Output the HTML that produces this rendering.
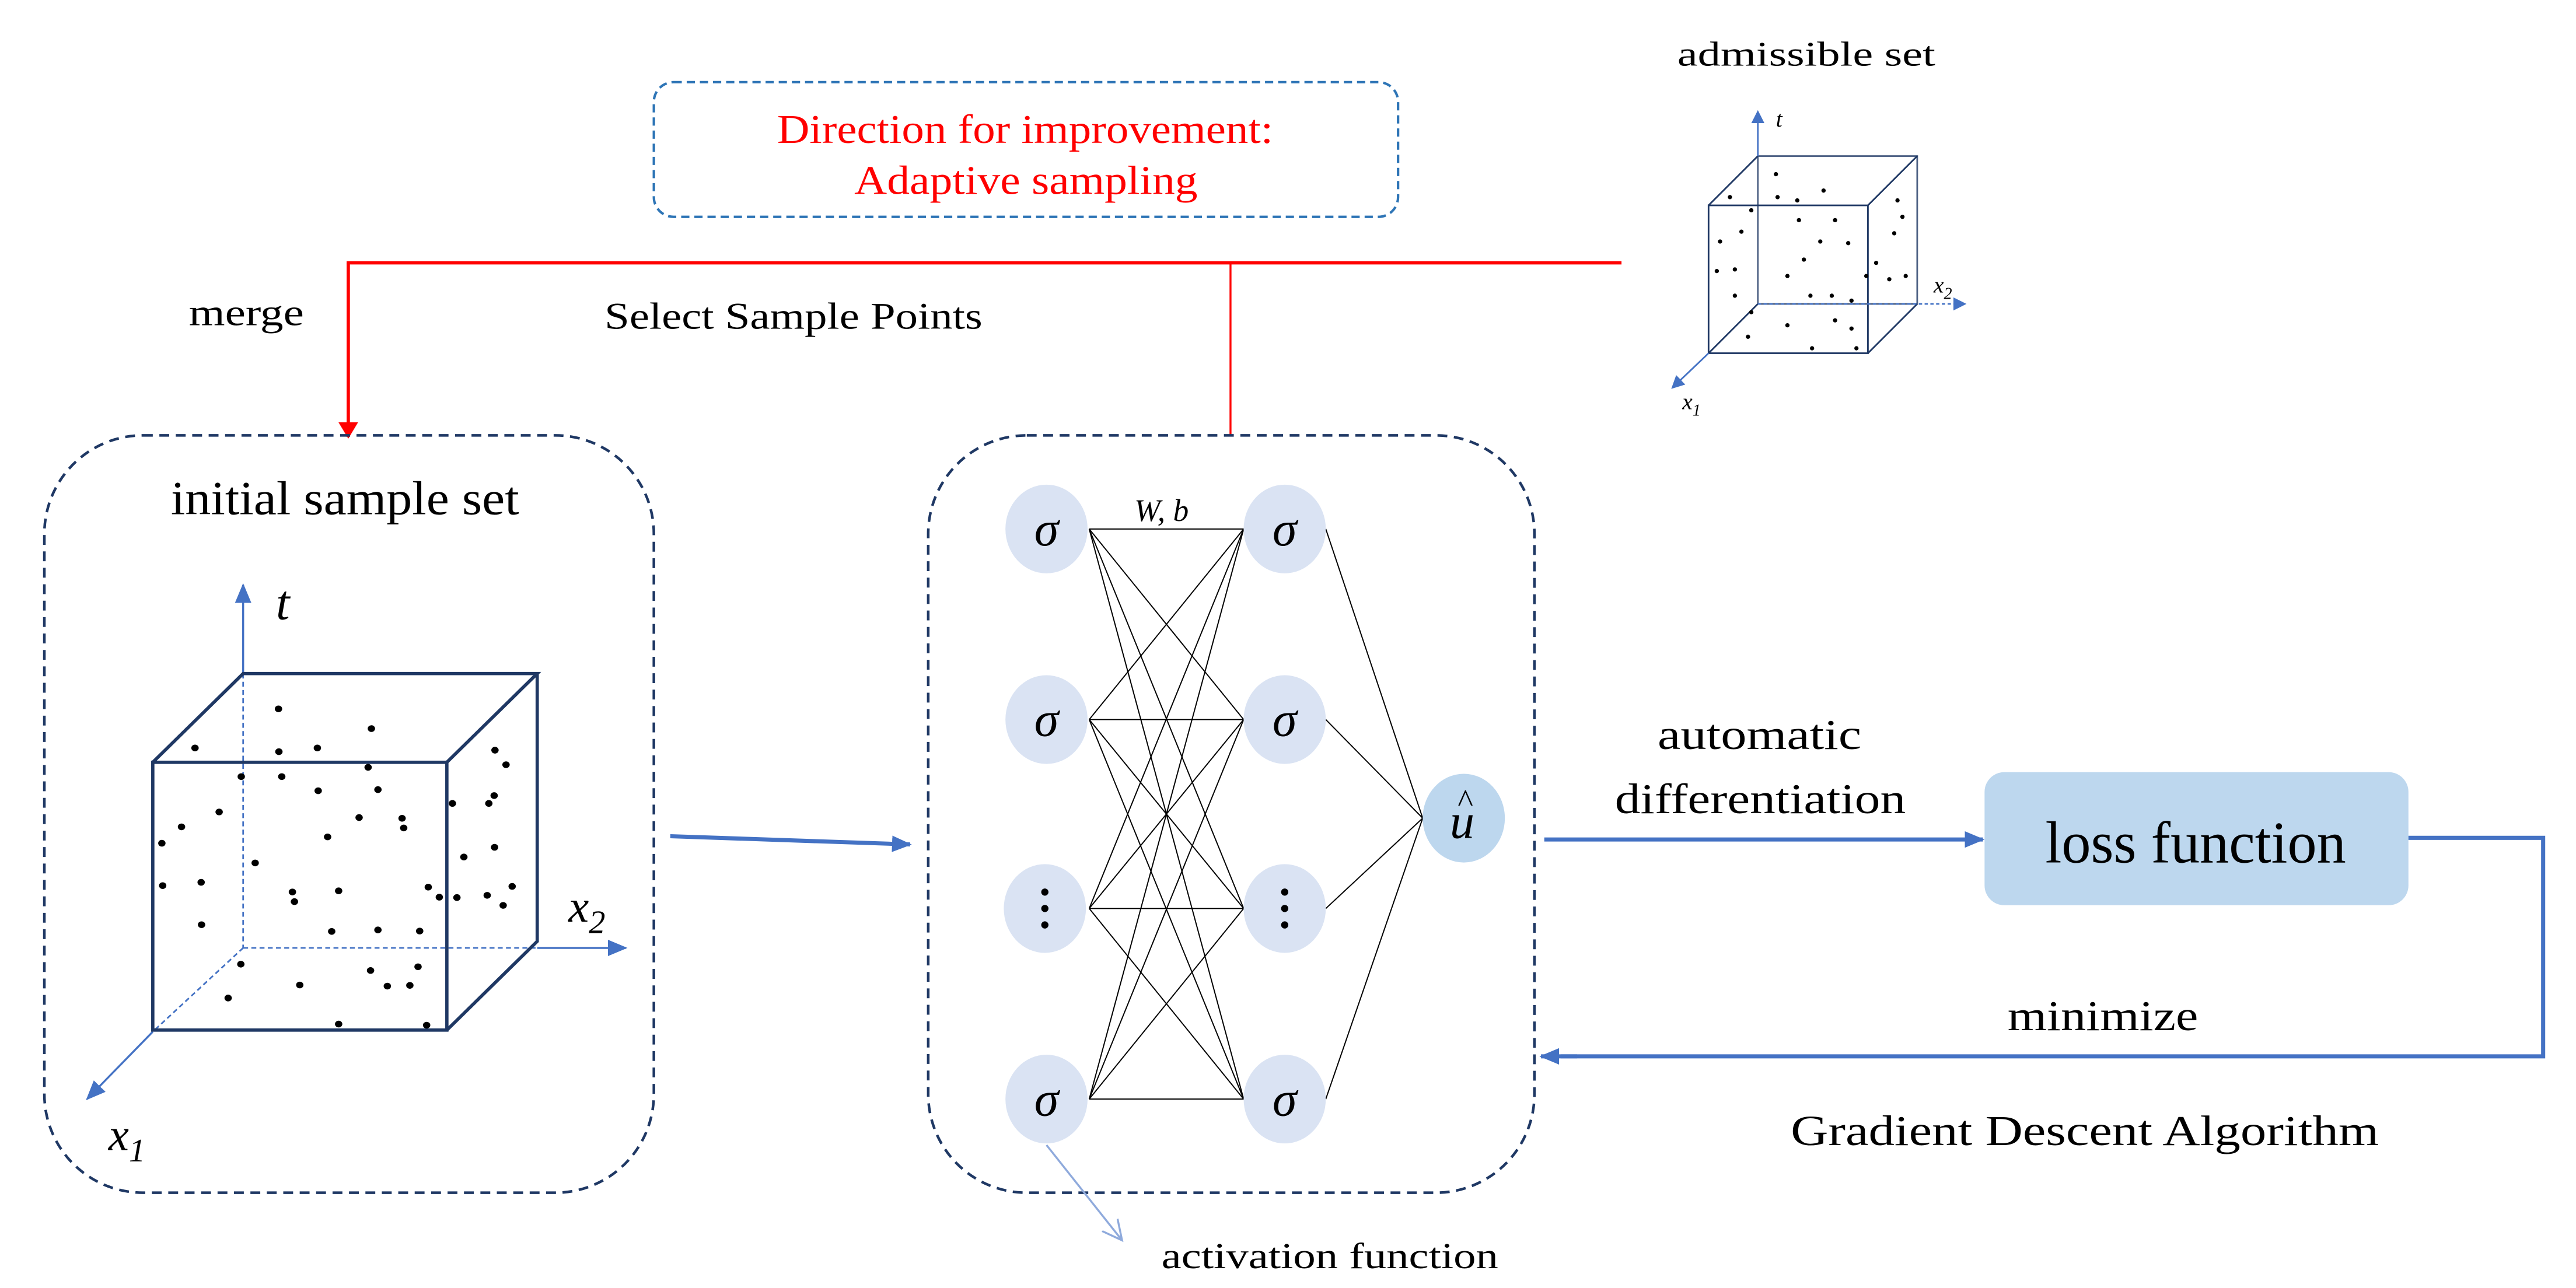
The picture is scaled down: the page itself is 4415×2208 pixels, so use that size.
<!DOCTYPE html>
<html><head><meta charset="utf-8">
<style>
html,body{margin:0;padding:0;background:#fff;}
svg{display:block;}
text{font-family:"Liberation Serif",serif;}
</style></head>
<body>
<svg width="4415" height="2208" viewBox="0 0 1568 784" preserveAspectRatio="none" xmlns="http://www.w3.org/2000/svg">
<defs>
<marker id="ab" markerWidth="8" markerHeight="8" refX="7" refY="4" orient="auto" markerUnits="userSpaceOnUse"><path d="M0,0 L8,4 L0,8 z" fill="#4472C4"/></marker>
<marker id="ab2" markerWidth="12" markerHeight="10" refX="11" refY="5" orient="auto" markerUnits="userSpaceOnUse"><path d="M0,0 L12,5 L0,10 z" fill="#4472C4"/></marker>
<marker id="ar" markerWidth="10" markerHeight="12" refX="9" refY="6" orient="auto" markerUnits="userSpaceOnUse"><path d="M0,0 L10,6 L0,12 z" fill="#FF0000"/></marker>
<marker id="ao" markerWidth="14" markerHeight="14" refX="12" refY="7" orient="auto" markerUnits="userSpaceOnUse"><path d="M0,1 L12,7 L0,13" fill="none" stroke="#8FAADC" stroke-width="1.2"/></marker>
</defs>

<!-- top dashed box -->
<rect x="398" y="50" width="453" height="82" rx="12" fill="none" stroke="#2E75B6" stroke-width="1.5" stroke-dasharray="5,3"/>
<text x="473" y="87" font-size="25" fill="#FF0000" textLength="302" lengthAdjust="spacingAndGlyphs">Direction for improvement:</text>
<text x="520" y="118" font-size="25" fill="#FF0000" textLength="209" lengthAdjust="spacingAndGlyphs">Adaptive sampling</text>

<!-- red lines -->
<line x1="211" y1="160" x2="987" y2="160" stroke="#FF0000" stroke-width="2"/>
<line x1="212" y1="160" x2="212" y2="266" stroke="#FF0000" stroke-width="2" marker-end="url(#ar)"/>
<line x1="749" y1="160" x2="749" y2="265" stroke="#FF0000" stroke-width="1.2"/>
<text x="115" y="198" font-size="23" textLength="70" lengthAdjust="spacingAndGlyphs">merge</text>
<text x="368" y="200" font-size="23" textLength="230" lengthAdjust="spacingAndGlyphs">Select Sample Points</text>

<!-- admissible set -->
<text x="1021" y="40" font-size="21" textLength="157" lengthAdjust="spacingAndGlyphs">admissible set</text>
<g stroke="#1F3864" stroke-width="1" fill="none">
<rect x="1040" y="125" width="97" height="90"/>
<rect x="1070" y="95" width="97" height="90" stroke-opacity="0.8"/>
<line x1="1040" y1="125" x2="1070" y2="95"/><line x1="1137" y1="125" x2="1167" y2="95"/>
<line x1="1137" y1="215" x2="1167" y2="185"/><line x1="1040" y1="215" x2="1070" y2="185"/>
</g>
<line x1="1070" y1="95" x2="1070" y2="68" stroke="#4472C4" stroke-width="1" marker-end="url(#ab)"/>
<line x1="1070" y1="185" x2="1196" y2="185" stroke="#4472C4" stroke-width="1" stroke-dasharray="2,1.5" marker-end="url(#ab)"/>
<line x1="1040" y1="215" x2="1018" y2="236" stroke="#4472C4" stroke-width="1" marker-end="url(#ab)"/>
<text x="1081" y="77" font-size="14" font-style="italic">t</text>
<text x="1177" y="178" font-size="14" font-style="italic">x<tspan font-size="10" dy="4">2</tspan></text>
<text x="1024" y="249" font-size="14" font-style="italic">x<tspan font-size="10" dy="4">1</tspan></text>
<g fill="#000">
<circle cx="1053" cy="120" r="1.3"/><circle cx="1081" cy="106" r="1.3"/><circle cx="1082" cy="120" r="1.3"/><circle cx="1094" cy="122" r="1.3"/><circle cx="1110" cy="116" r="1.3"/>
<circle cx="1117" cy="134" r="1.3"/><circle cx="1095" cy="134" r="1.3"/><circle cx="1066" cy="128" r="1.3"/><circle cx="1155" cy="122" r="1.3"/><circle cx="1158" cy="132" r="1.3"/>
<circle cx="1047" cy="147" r="1.3"/><circle cx="1060" cy="141" r="1.3"/><circle cx="1108" cy="147" r="1.3"/><circle cx="1125" cy="148" r="1.3"/><circle cx="1098" cy="158" r="1.3"/>
<circle cx="1153" cy="142" r="1.3"/><circle cx="1142" cy="160" r="1.3"/><circle cx="1045" cy="165" r="1.3"/><circle cx="1056" cy="164" r="1.3"/><circle cx="1088" cy="168" r="1.3"/>
<circle cx="1136" cy="168" r="1.3"/><circle cx="1150" cy="170" r="1.3"/><circle cx="1160" cy="168" r="1.3"/><circle cx="1102" cy="180" r="1.3"/><circle cx="1115" cy="180" r="1.3"/>
<circle cx="1127" cy="183" r="1.3"/><circle cx="1066" cy="190" r="1.3"/><circle cx="1088" cy="198" r="1.3"/><circle cx="1117" cy="195" r="1.3"/><circle cx="1127" cy="200" r="1.3"/>
<circle cx="1064" cy="205" r="1.3"/><circle cx="1103" cy="212" r="1.3"/><circle cx="1130" cy="212" r="1.3"/><circle cx="1056" cy="180" r="1.3"/>
</g>

<!-- left dashed box -->
<rect x="27" y="265" width="371" height="461" rx="60" fill="none" stroke="#1F3864" stroke-width="1.6" stroke-dasharray="6,4"/>
<text x="104" y="313" font-size="29" textLength="212" lengthAdjust="spacingAndGlyphs">initial sample set</text>
<!-- big cube -->
<line x1="148" y1="410" x2="148" y2="356" stroke="#4472C4" stroke-width="1.2" marker-end="url(#ab2)"/>
<line x1="148" y1="410" x2="148" y2="577" stroke="#4472C4" stroke-width="1" stroke-dasharray="3,2"/>
<line x1="148" y1="577" x2="327" y2="577" stroke="#4472C4" stroke-width="1" stroke-dasharray="3,2"/>
<line x1="327" y1="577" x2="381" y2="577" stroke="#4472C4" stroke-width="1.2" marker-end="url(#ab2)"/>
<line x1="148" y1="577" x2="93" y2="628" stroke="#4472C4" stroke-width="1" stroke-dasharray="3,2"/>
<line x1="93" y1="628" x2="53" y2="669" stroke="#4472C4" stroke-width="1.2" marker-end="url(#ab2)"/>
<g stroke="#1F3864" stroke-width="2" fill="none">
<rect x="93" y="464" width="179" height="163"/>
<polyline points="93,464 148,410 327,410 272,464"/>
<polyline points="327,410 327,573 272,627"/>
</g>
<text x="168" y="377" font-size="30" font-style="italic">t</text>
<text x="346" y="561" font-size="28" font-style="italic">x<tspan font-size="20" dy="7">2</tspan></text>
<text x="66" y="700" font-size="28" font-style="italic">x<tspan font-size="20" dy="7">1</tspan></text>
<g transform="translate(21.3,340.9) scale(0.2491,0.2265)" fill="#000">
<circle cx="595" cy="400" r="9"/><circle cx="822" cy="453" r="9"/><circle cx="391" cy="505" r="9"/><circle cx="596" cy="515" r="9"/><circle cx="690" cy="505" r="9"/>
<circle cx="814" cy="557" r="9"/><circle cx="504" cy="582" r="9"/><circle cx="603" cy="582" r="9"/><circle cx="692" cy="620" r="9"/><circle cx="838" cy="617" r="9"/>
<circle cx="1124" cy="511" r="9"/><circle cx="1151" cy="550" r="9"/><circle cx="1122" cy="633" r="9"/><circle cx="1109" cy="654" r="9"/><circle cx="1020" cy="654" r="9"/>
<circle cx="450" cy="677" r="9"/><circle cx="358" cy="717" r="9"/><circle cx="310" cy="761" r="9"/><circle cx="792" cy="692" r="9"/><circle cx="897" cy="694" r="9"/>
<circle cx="901" cy="720" r="9"/><circle cx="715" cy="744" r="9"/><circle cx="1123" cy="772" r="9"/><circle cx="1048" cy="798" r="9"/><circle cx="538" cy="814" r="9"/>
<circle cx="312" cy="875" r="9"/><circle cx="406" cy="866" r="9"/><circle cx="629" cy="892" r="9"/><circle cx="634" cy="918" r="9"/><circle cx="742" cy="889" r="9"/>
<circle cx="961" cy="879" r="9"/><circle cx="988" cy="906" r="9"/><circle cx="1031" cy="907" r="9"/><circle cx="1105" cy="901" r="9"/><circle cx="1166" cy="877" r="9"/>
<circle cx="1144" cy="928" r="9"/><circle cx="407" cy="980" r="9"/><circle cx="725" cy="998" r="9"/><circle cx="838" cy="994" r="9"/><circle cx="940" cy="997" r="9"/>
<circle cx="503" cy="1086" r="9"/><circle cx="820" cy="1103" r="9"/><circle cx="936" cy="1093" r="9"/><circle cx="647" cy="1142" r="9"/><circle cx="861" cy="1145" r="9"/>
<circle cx="916" cy="1143" r="9"/><circle cx="472" cy="1177" r="9"/><circle cx="742" cy="1247" r="9"/><circle cx="957" cy="1250" r="9"/>
</g>

<!-- arrow to network -->
<line x1="408" y1="509" x2="554" y2="514" stroke="#4472C4" stroke-width="2.5" marker-end="url(#ab2)"/>

<!-- middle dashed box -->
<rect x="565" y="265" width="369" height="461" rx="60" fill="none" stroke="#1F3864" stroke-width="1.6" stroke-dasharray="6,4"/>
<g stroke="#000" stroke-width="0.7">
<line x1="663" y1="322" x2="757" y2="322"/><line x1="663" y1="322" x2="757" y2="438"/><line x1="663" y1="322" x2="757" y2="553"/><line x1="663" y1="322" x2="757" y2="669"/>
<line x1="663" y1="438" x2="757" y2="322"/><line x1="663" y1="438" x2="757" y2="438"/><line x1="663" y1="438" x2="757" y2="553"/><line x1="663" y1="438" x2="757" y2="669"/>
<line x1="663" y1="553" x2="757" y2="322"/><line x1="663" y1="553" x2="757" y2="438"/><line x1="663" y1="553" x2="757" y2="553"/><line x1="663" y1="553" x2="757" y2="669"/>
<line x1="663" y1="669" x2="757" y2="322"/><line x1="663" y1="669" x2="757" y2="438"/><line x1="663" y1="669" x2="757" y2="553"/><line x1="663" y1="669" x2="757" y2="669"/>
<line x1="807" y1="322" x2="866" y2="498"/><line x1="807" y1="438" x2="866" y2="498"/><line x1="807" y1="553" x2="866" y2="498"/><line x1="807" y1="669" x2="866" y2="498"/>
</g>
<g fill="#DAE3F3">
<ellipse cx="637" cy="322" rx="25" ry="27"/><ellipse cx="637" cy="438" rx="25" ry="27"/><ellipse cx="636" cy="553" rx="25" ry="27"/><ellipse cx="637" cy="669" rx="25" ry="27"/>
<ellipse cx="782" cy="322" rx="25" ry="27"/><ellipse cx="782" cy="438" rx="25" ry="27"/><ellipse cx="782" cy="553" rx="25" ry="27"/><ellipse cx="782" cy="669" rx="25" ry="27"/>
</g>
<ellipse cx="891" cy="498" rx="25" ry="27" fill="#BDD7EE"/>
<g font-size="30" font-style="italic" text-anchor="middle">
<text x="637" y="332">σ</text><text x="637" y="448">σ</text><text x="637" y="679">σ</text>
<text x="782" y="332">σ</text><text x="782" y="448">σ</text><text x="782" y="679">σ</text>
<text x="890" y="510">u</text>
</g>
<text x="892" y="494" font-size="20" text-anchor="middle">^</text>
<g fill="#000">
<circle cx="636" cy="543" r="2.2"/><circle cx="636" cy="553" r="2.2"/><circle cx="636" cy="563" r="2.2"/>
<circle cx="782" cy="543" r="2.2"/><circle cx="782" cy="553" r="2.2"/><circle cx="782" cy="563" r="2.2"/>
</g>
<text x="707" y="317" font-size="19" font-style="italic" text-anchor="middle">W, b</text>

<!-- activation function -->
<line x1="637" y1="697" x2="683" y2="755" stroke="#8FAADC" stroke-width="1.2" marker-end="url(#ao)"/>
<text x="707" y="772" font-size="22" textLength="205" lengthAdjust="spacingAndGlyphs">activation  function</text>

<!-- auto diff arrow -->
<line x1="940" y1="511" x2="1207" y2="511" stroke="#4472C4" stroke-width="2.5" marker-end="url(#ab2)"/>
<text x="1009" y="456" font-size="26" textLength="124" lengthAdjust="spacingAndGlyphs">automatic</text>
<text x="983" y="495" font-size="26" textLength="177" lengthAdjust="spacingAndGlyphs">differentiation</text>

<rect x="1208" y="470" width="258" height="81" rx="12" fill="#BDD7EE"/>
<text x="1245" y="525" font-size="36" textLength="183" lengthAdjust="spacingAndGlyphs">loss function</text>

<polyline points="1466,510 1548,510 1548,643 950,643" fill="none" stroke="#4472C4" stroke-width="2.5"/>
<line x1="960" y1="643" x2="938" y2="643" stroke="#4472C4" stroke-width="2.5" marker-end="url(#ab2)"/>
<text x="1222" y="627" font-size="26" textLength="116" lengthAdjust="spacingAndGlyphs">minimize</text>
<text x="1090" y="697" font-size="26" textLength="358" lengthAdjust="spacingAndGlyphs">Gradient Descent Algorithm</text>
</svg>
</body></html>
